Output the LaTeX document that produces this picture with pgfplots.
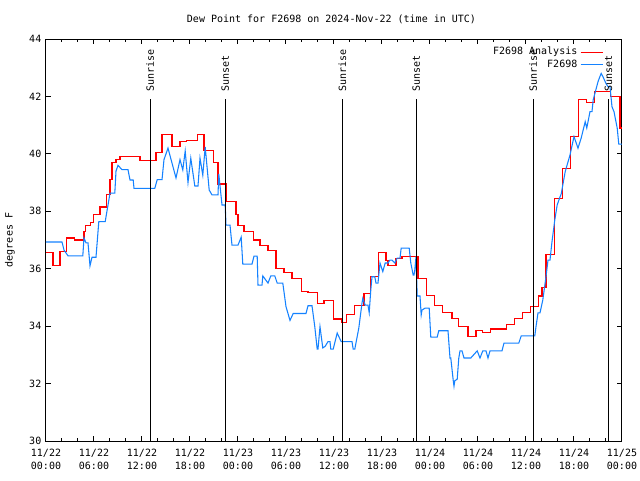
\documentclass[border=0pt]{standalone}
\usepackage{pgfplots}
\pgfplotsset{compat=1.18}
\usepackage{fontspec}
\setmainfont{DejaVu Sans Mono}
\definecolor{stnblue}{RGB}{20,130,255}
\newcommand{\gfont}{\fontsize{7.5}{9.75}\selectfont}
\begin{document}
\begin{tikzpicture}
\path[use as bounding box, fill=white] (0,0) rectangle (480pt,360pt);
\begin{axis}[
  at={(34.5pt,29.25pt)}, anchor=south west,
  scale only axis, width=432pt, height=301.5pt,
  xmin=0, xmax=72, ymin=30, ymax=44,
  xtick={0,6,...,72},
  xticklabels={{11/22\\00:00},{11/22\\06:00},{11/22\\12:00},{11/22\\18:00},{11/23\\00:00},{11/23\\06:00},{11/23\\12:00},{11/23\\18:00},{11/24\\00:00},{11/24\\06:00},{11/24\\12:00},{11/24\\18:00},{11/25\\00:00}},
  ytick={30,32,...,44},
  minor x tick num=2,
  tick align=inside,
  xtick pos=both, ytick pos=both,
  major tick length=3.5pt, minor tick length=2pt,
  tick style={black, line width=0.75pt},
  axis line style={black, line width=0.75pt},
  ticklabel style={font=\gfont},
  xticklabel style={align=center, yshift=-2.2pt},
  /pgf/number format/assume math mode=true,
  legend style={at={(1,1)}, anchor=north east, xshift=-12pt, yshift=-2pt, draw=none, fill=none, font=\gfont, row sep=-2pt, inner sep=2pt},
  legend cell align=right,
  legend plot pos=right,
  legend image code/.code={\draw[#1] (0cm,0cm) -- (0.58cm,0cm);},
]
\addplot[red, line width=0.8pt, const plot] coordinates {
(0,36.55) (0.875,36.1) (1.75,36.6) (2.6,37.07) (3.6,37.0) (4.75,37.3) (4.9,37.5) (5.6,37.6) (5.9,37.9) (6.75,38.15) (7.6,38.6) (8.0,39.1) (8.25,39.7) (8.75,39.8) (9.25,39.9) (11.75,39.77) (13.75,40.05) (14.5,40.66) (15.75,40.27) (16.75,40.42) (17.6,40.48) (18.9,40.66) (19.75,40.13) (20.9,39.69) (21.5,38.95) (22.6,38.33) (23.75,37.9) (24.0,37.52) (24.75,37.29) (25.9,37.0) (26.75,36.82) (27.75,36.65) (28.75,36.0) (29.75,35.87) (30.75,35.67) (31.9,35.2) (32.75,35.16) (33.9,34.8) (34.75,34.9) (35.9,34.25) (36.9,34.14) (37.6,34.39) (38.6,34.73) (39.75,35.15) (40.6,35.72) (41.6,36.56) (42.5,36.28) (42.75,36.1) (43.75,36.34) (44.5,36.44) (45.6,36.42) (46.5,35.67) (47.6,35.08) (48.6,34.73) (49.6,34.46) (50.75,34.28) (51.6,34.0) (52.75,33.65) (53.75,33.86) (54.6,33.77) (55.6,33.9) (57.6,34.07) (58.6,34.28) (59.6,34.46) (60.6,34.67) (61.6,35.05) (62.0,35.36) (62.5,36.5) (63.6,38.46) (64.6,39.5) (65.6,40.6) (66.6,41.9) (67.6,41.8) (68.6,42.17) (70.6,41.99) (71.75,40.9) (72,40.9)
};
\addlegendentry{F2698 Analysis}
\addplot[stnblue, line width=0.8pt] coordinates {
(0,36.93) (2.0,36.93) (2.25,36.65) (2.75,36.45) (4.6,36.45) (4.75,37.07) (5.0,36.9) (5.25,36.9) (5.5,36.1) (5.75,36.4) (6.25,36.4) (6.6,37.64) (7.4,37.64) (8.0,38.63) (8.6,38.63) (8.75,39.4) (9.0,39.6) (9.5,39.45) (10.25,39.45) (10.5,39.09) (10.9,39.09) (11.0,38.8) (13.6,38.8) (13.9,39.1) (14.5,39.1) (14.75,39.8) (15.25,40.2) (15.75,39.68) (16.25,39.16) (16.75,39.8) (17.1,39.44) (17.4,40.1) (17.75,39.0) (18.1,39.85) (18.6,38.88) (19.0,38.88) (19.25,39.85) (19.6,39.26) (19.9,40.24) (20.4,38.74) (20.75,38.57) (21.5,38.57) (21.6,39.3) (22.0,38.22) (22.4,38.22) (22.5,37.52) (23.0,37.52) (23.25,36.82) (24.0,36.82) (24.4,37.1) (24.6,36.16) (25.75,36.16) (26.0,36.44) (26.4,36.44) (26.5,35.43) (27.0,35.43) (27.1,35.75) (27.75,35.5) (28.1,35.75) (28.6,35.75) (28.9,35.5) (29.6,35.5) (30.0,34.68) (30.5,34.2) (30.9,34.44) (32.5,34.44) (32.75,34.71) (33.25,34.71) (33.6,33.98) (33.9,33.2) (34.0,33.2) (34.25,33.98) (34.6,33.24) (34.9,33.3) (35.25,33.46) (35.5,33.46) (35.6,33.2) (35.9,33.2) (36.4,33.76) (36.9,33.46) (38.25,33.46) (38.4,33.2) (38.6,33.2) (39.1,33.93) (39.5,34.8) (39.6,34.97) (39.9,34.73) (40.25,34.73) (40.4,34.47) (40.6,35.26) (40.75,35.72) (41.1,35.72) (41.25,35.5) (41.5,35.5) (41.75,36.2) (42.1,35.9) (42.4,36.2) (42.75,36.2) (43.0,36.3) (43.25,36.3) (43.6,36.2) (43.9,36.37) (44.25,36.37) (44.4,36.72) (45.4,36.72) (45.6,36.2) (45.9,35.78) (46.0,35.78) (46.1,35.95) (46.25,36.42) (46.4,35.05) (46.75,35.05) (46.9,34.39) (47.0,34.56) (47.4,34.63) (47.9,34.63) (48.1,33.62) (48.9,33.62) (49.1,33.84) (50.25,33.84) (50.5,32.89) (50.6,32.89) (50.9,32.12) (51.0,31.91) (51.1,32.1) (51.4,32.15) (51.6,32.89) (51.75,33.14) (52.0,33.14) (52.25,32.89) (53.1,32.89) (53.9,33.14) (54.25,32.89) (54.6,33.14) (55.0,33.14) (55.25,32.89) (55.5,33.14) (57.0,33.14) (57.25,33.41) (59.1,33.41) (59.4,33.66) (61.1,33.66) (61.25,33.98) (61.5,34.46) (61.75,34.46) (62.1,34.91) (62.5,35.72) (62.75,36.3) (63.0,36.3) (63.25,36.94) (63.6,37.7) (63.9,38.22) (64.25,38.5) (64.4,38.6) (64.9,39.38) (65.5,39.96) (66.0,40.6) (66.5,40.2) (66.9,40.55) (67.4,41.12) (67.6,40.9) (68.0,41.47) (68.25,41.47) (68.4,41.88) (69.0,42.51) (69.25,42.7) (69.4,42.8) (69.6,42.7) (70.0,42.45) (70.25,42.34) (70.5,42.34) (70.75,41.64) (71.0,41.47) (71.4,40.9) (71.6,40.34) (72.0,40.34)
};
\addlegendentry{F2698}
\foreach \t/\lab in {13.03/Sunrise,22.4/Sunset,37.05/Sunrise,46.28/Sunset,60.9/Sunrise,70.3/Sunset}{
  \edef\tmp{\noexpand\draw[black, line width=0.75pt] (axis cs:\t,30) -- (axis cs:\t,41.9);
  \noexpand\node[rotate=90, anchor=west, font=\noexpand\gfont, inner sep=1pt] at (axis cs:\t,42.1) {\lab};}
  \tmp
}
\end{axis}
\node[font=\gfont] at (248.6pt,345.75pt) {Dew Point for F2698 on 2024-Nov-22 (time in UTC)};
\node[font=\gfont, rotate=90] at (7.5pt,180pt) {degrees F};
\end{tikzpicture}
\end{document}
